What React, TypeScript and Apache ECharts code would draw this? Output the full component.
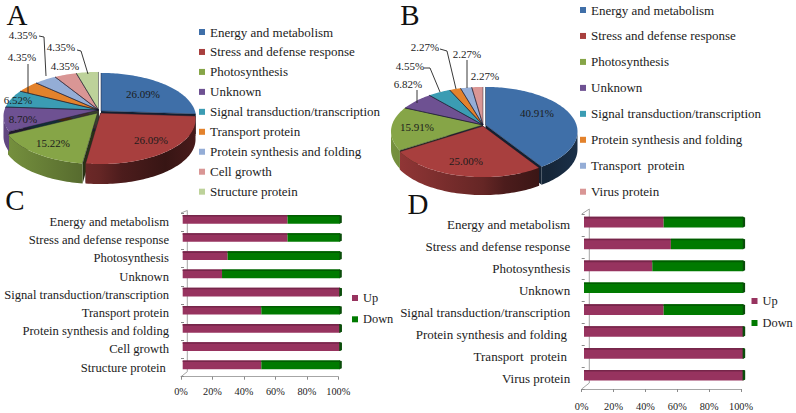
import React, { useEffect, useRef } from "react";
import * as echarts from "echarts";

const FONT = "Liberation Serif";
const TEXT = "#1c1c1c";

const categoriesA = ["Energy and metabolism", "Stress and defense response", "Photosynthesis", "Unknown", "Signal transduction/transcription", "Transport protein", "Protein synthesis and folding", "Cell growth", "Structure protein"];
const valuesA = [26.09, 26.09, 15.22, 8.7, 6.52, 4.35, 4.35, 4.35, 4.35];
const colorsA = ["#3f6fa8", "#a83f3e", "#86a547", "#6e5192", "#3b9cb3", "#e3822c", "#94add6", "#d99695", "#bdd29a"];
const explodeA = [[1.5, 0], [1, 2], [-2, 2], [-1, -1], [-1, -1], [-1, -1], [-1, -1], [-1, -1], [-1, -1]];
const labelPosA = [[143, 94], [151, 140], [53, 143], [23, 119], [18, 100], [22, 57], [23, 35], [65, 66], [61, 47]];
const leadersA = [[[28, 64], [28, 93]], [[39, 36], [44, 37], [46, 76]], [[77, 50], [81, 51], [88, 74]]];

const categoriesB = ["Energy and metabolism", "Stress and defense response", "Photosynthesis", "Unknown", "Signal transduction/transcription", "Protein synthesis and folding", "Transport  protein", "Virus protein"];
const valuesB = [40.91, 25.0, 15.91, 6.82, 4.55, 2.27, 2.27, 2.27];
const colorsB = ["#3f6fa8", "#a83f3e", "#86a547", "#6e5192", "#3b9cb3", "#e3822c", "#94add6", "#d99695"];
const explodeB = [[2.5, 0], [0, 1], [0, 0], [0, 0], [0, 0], [0, 0], [0, 0], [0, 0]];
const labelPosB = [[537, 113], [466, 161], [417, 127], [408, 84], [410, 66], [425, 47], [467, 54], [485, 76]];
const leadersB = [[[417, 90], [417, 103]], [[424, 68], [430, 68], [440, 92]], [[440, 49], [447, 51], [456, 89]], [[467, 60], [467, 88]]];

const categoriesC = ["Energy and metabolism", "Stress and defense response", "Photosynthesis", "Unknown", "Signal transduction/transcription", "Transport protein", "Protein synthesis and folding", "Cell growth", "Structure protein "];
const upC = [66.67, 66.67, 28.57, 25, 100, 50, 100, 100, 50];
const downC = [33.33, 33.33, 71.43, 75, 0, 50, 0, 0, 50];

const categoriesD = ["Energy and metabolism", "Stress and defense response", "Photosynthesis", "Unknown", "Signal transduction/transcription", "Protein synthesis and folding ", "Transport  protein ", "Virus protein"];
const upD = [50, 54.55, 42.86, 0, 50, 100, 100, 100];
const downD = [50, 45.45, 57.14, 100, 50, 0, 0, 0];

const xTicks = [0, 20, 40, 60, 80, 100];
const UP = "#97335f";
const DOWN = "#007a00";

function shade(hex: string, f: number) {
  const n = parseInt(hex.slice(1), 16);
  const c = [(n >> 16) & 255, (n >> 8) & 255, n & 255].map((v) => Math.round(v * f));
  return `rgb(${c[0]},${c[1]},${c[2]})`;
}

const PERSP = 0.146;
function rimPoint(p: any, th: number, ox: number, oy: number, dz = 0) {
  const u = Math.sin(th), v = -Math.cos(th), w = 1 - PERSP * v;
  return [p.cx + ox + (p.rx * u) / w, p.cy + oy + (p.ry * v) / w + dz];
}

function sliceSeries(names: string[], values: number[], colors: string[], explode: number[][], p: any) {
  const total = values.reduce((a, b) => a + b, 0);
  let acc = 0;
  const visA = Math.acos(-PERSP);
  const visB = 2 * Math.PI - visA;
  return names.map((name, i) => {
    const a0 = (acc / total) * 2 * Math.PI;
    acc += values[i];
    const a1 = (acc / total) * 2 * Math.PI;
    const [ox, oy] = explode[i];
    const col = colors[i];
    return {
      type: "custom", name, coordinateSystem: "none", silent: true, itemStyle: { color: col }, data: [[values[i]]],
      renderItem: () => {
        const children: any[] = [];
        const hub = [p.cx + ox, p.cy + oy];
        const hubLow = [hub[0], hub[1] + p.depth];
        const rim: number[][] = [];
        const steps = Math.max(4, Math.ceil((a1 - a0) * 40));
        for (let s = 0; s <= steps; s++) rim.push(rimPoint(p, a0 + ((a1 - a0) * s) / steps, ox, oy));
        const dark = shade(col, 0.3);
        // cut faces of the wedge sit under every wall and top face
        [a0, a1].forEach((a) => {
          const r = rimPoint(p, a, ox, oy);
          children.push({ type: "polygon", z2: 1, shape: { points: [hub, r, [r[0], r[1] + p.depth], hubLow] }, style: { fill: dark } });
        });
        const w0 = Math.max(a0, visA), w1 = Math.min(a1, visB);
        if (w1 > w0) {
          const top: number[][] = [], low: number[][] = [];
          const n = Math.ceil((w1 - w0) * 40);
          for (let s = 0; s <= n; s++) {
            const a = w0 + ((w1 - w0) * s) / n;
            top.push(rimPoint(p, a, ox, oy));
            low.push(rimPoint(p, a, ox, oy, p.depth));
          }
          const fill = new echarts.graphic.LinearGradient(p.cx - p.rx, 0, p.cx + p.rx, 0, [
            { offset: 0, color: shade(col, 0.88) },
            { offset: 0.5, color: shade(col, 0.6) },
            { offset: 0.62, color: shade(col, 0.45) },
            { offset: 0.85, color: shade(col, 0.33) },
            { offset: 1, color: shade(col, 0.42) },
          ], true);
          children.push({ type: "polygon", z2: 5, shape: { points: [...top, ...low.reverse()] }, style: { fill } });
        }
        children.push({ type: "polygon", z2: 10, shape: { points: [hub, ...rim] }, style: { fill: col } });
        const edge = { stroke: "rgba(25,25,45,0.65)", lineWidth: 0.7, fill: "none" };
        children.push({ type: "polyline", z2: 11, shape: { points: [rim[0], hub, rim[rim.length - 1]] }, style: edge });
        return { type: "group", children };
      },
    };
  });
}

function labelSeries(values: number[], pos: number[][], leaders: number[][][]) {
  return {
    type: "custom", name: "labels", coordinateSystem: "none", silent: true,
    data: values.map((v, i) => [v, i]),
    renderItem: (_: any, api: any) => {
      const i = api.value(1);
      const children: any[] = [{
        type: "text", z2: 30,
        style: { text: `${api.value(0).toFixed(2)}%`, x: pos[i][0], y: pos[i][1], fill: TEXT, font: `11px "${FONT}"`, textAlign: "center", textVerticalAlign: "middle" },
      }];
      if (i === 0) leaders.forEach((pts) => children.push({ type: "polyline", z2: 30, shape: { points: pts }, style: { stroke: "#222", lineWidth: 0.9, fill: "none" } }));
      return { type: "group", children };
    },
  };
}

function barSeries(name: string, axis: number, vals: number[], starts: number[], color: string, topColor: string, capColor: string, barH: number, dx: number, dy: number) {
  return {
    type: "custom", name, coordinateSystem: "cartesian2d", xAxisIndex: axis, yAxisIndex: axis, silent: true, clip: false,
    itemStyle: { color }, encode: { x: 2, y: 0 },
    data: vals.map((v, i) => [i, starts[i], starts[i] + v]),
    renderItem: (_: any, api: any) => {
      const a = api.coord([api.value(1), api.value(0)]);
      const b = api.coord([api.value(2), api.value(0)]);
      const x0 = a[0] + dx, x1 = b[0] + dx, top = a[1] + dy - barH / 2, strip = 1.6, cap = 1.8;
      const children: any[] = [];
      if (x1 > x0) {
        children.push({ type: "rect", shape: { x: x0, y: top, width: x1 - x0, height: barH }, style: { fill: color } });
        children.push({ type: "rect", shape: { x: x0, y: top, width: x1 - x0, height: strip }, style: { fill: topColor } });
      }
      if (b[0] >= api.coord([100, 0])[0] - 0.01) {
        children.push({ type: "polygon", shape: { points: [[x1 - 0.5, top], [x1 + cap, top + 0.6], [x1 + cap, top + barH - 1], [x1 - 0.5, top + barH]] }, style: { fill: capColor } });
      }
      return { type: "group", children };
    },
  };
}

function axisPair(index: number, cats: string[], fontSize: number, labelMargin: number, xMargin: number) {
  return {
    x: {
      type: "value", gridIndex: index, min: xTicks[0], max: xTicks[xTicks.length - 1], interval: 20,
      splitLine: { show: false }, axisLine: { show: true, lineStyle: { color: "#a6a6a6" } },
      axisTick: { show: true, length: 3, lineStyle: { color: "#8a8a8a" } },
      axisLabel: { formatter: "{value}%", fontFamily: FONT, fontSize: 10.3, color: TEXT, margin: xMargin, hideOverlap: false, showMinLabel: true, showMaxLabel: true },
    },
    y: {
      type: "category", gridIndex: index, inverse: true, data: cats,
      axisLine: { show: false }, splitLine: { show: false },
      axisTick: { show: true, inside: true, length: 3, alignWithLabel: false, lineStyle: { color: "#8a8a8a" } },
      axisLabel: { fontFamily: FONT, fontSize, color: TEXT, margin: labelMargin, interval: 0 },
    },
  };
}

function legend(items: string[], colors: string[], left: number, top: number, gap: number, fontSize: number, itemSize: number) {
  return {
    left, top, padding: 0, orient: "vertical", icon: "rect", itemWidth: itemSize, itemHeight: itemSize, itemGap: gap - 14, selectedMode: false,
    textStyle: { fontFamily: FONT, fontSize, color: TEXT, lineHeight: 14 },
    data: items.map((name, i) => ({ name, itemStyle: { color: colors[i] } })),
  };
}

const letter = (text: string, x: number, y: number) => ({
  type: "text", style: { text, x, y, fill: "#111", font: `29px "${FONT}"`, textAlign: "center", textVerticalAlign: "middle" },
});
const wall = (x1: number, y1: number, x2: number, y2: number) => ({
  type: "line", shape: { x1, y1, x2, y2 }, style: { stroke: "#a6a6a6", lineWidth: 1 }, z: -1,
});

export default function App() {
  const ref = useRef<HTMLDivElement>(null);
  useEffect(() => {
    const chart = echarts.init(ref.current!, undefined, { renderer: "svg" });
    const pA = { cx: 99.5, cy: 111, rx: 94, ry: 43.6, depth: 20 };
    const pB = { cx: 483, cy: 125, rx: 91, ry: 43.6, depth: 18 };
    const c = axisPair(0, categoriesC, 12.6, 12, 10);
    const d = axisPair(1, categoriesD, 13, 11.5, 12);
    chart.setOption({
      animation: false,
      backgroundColor: "#ffffff",
      legend: [
        legend(categoriesA, colorsA, 199, 25, 19.96, 13, 6),
        legend(categoriesB, colorsB, 580, 3, 25.96, 13, 6),
        legend(["Up", "Down"], [UP, DOWN], 352, 291, 21.3, 12.4, 6),
        legend(["Up", "Down"], [UP, DOWN], 751.5, 294, 22, 12.4, 6),
      ],
      grid: [
        { left: 181, top: 213, width: 157.3, height: 163.7 },
        { left: 581.7, top: 214, width: 159.3, height: 175 },
      ],
      xAxis: [c.x, d.x],
      yAxis: [c.y, d.y],
      graphic: [
        letter("A", 17, 15), letter("B", 410, 15), letter("C", 15, 200), letter("D", 418, 204),
        wall(187.3, 210.5, 187.3, 371.7), wall(181, 213, 187.3, 210.5), wall(181, 376.7, 187.3, 371.7),
        wall(589.3, 209, 589.3, 383), wall(581.7, 214, 589.3, 209), wall(581.7, 389, 589.3, 383),
      ],
      series: [
        ...sliceSeries(categoriesA, valuesA, colorsA, explodeA, pA),
        ...sliceSeries(categoriesB, valuesB, colorsB, explodeB, pB),
        labelSeries(valuesA, labelPosA, leadersA),
        labelSeries(valuesB, labelPosB, leadersB),
        barSeries("Up", 0, upC, upC.map(() => 0), UP, "#76264a", "#0a4d0a", 8.7, 1.7, -2.8),
        barSeries("Down", 0, downC, upC, DOWN, "#005c00", "#0a4d0a", 8.7, 1.7, -2.8),
        barSeries("Up", 1, upD, upD.map(() => 0), UP, "#76264a", "#0a4d0a", 10.7, 2.3, -2.8),
        barSeries("Down", 1, downD, upD, DOWN, "#005c00", "#0a4d0a", 10.7, 2.3, -2.8),
      ],
    });
    return () => chart.dispose();
  }, []);
  return <div ref={ref} style={{ position: "fixed", left: 0, top: 0, width: 796, height: 413 }} />;
}
